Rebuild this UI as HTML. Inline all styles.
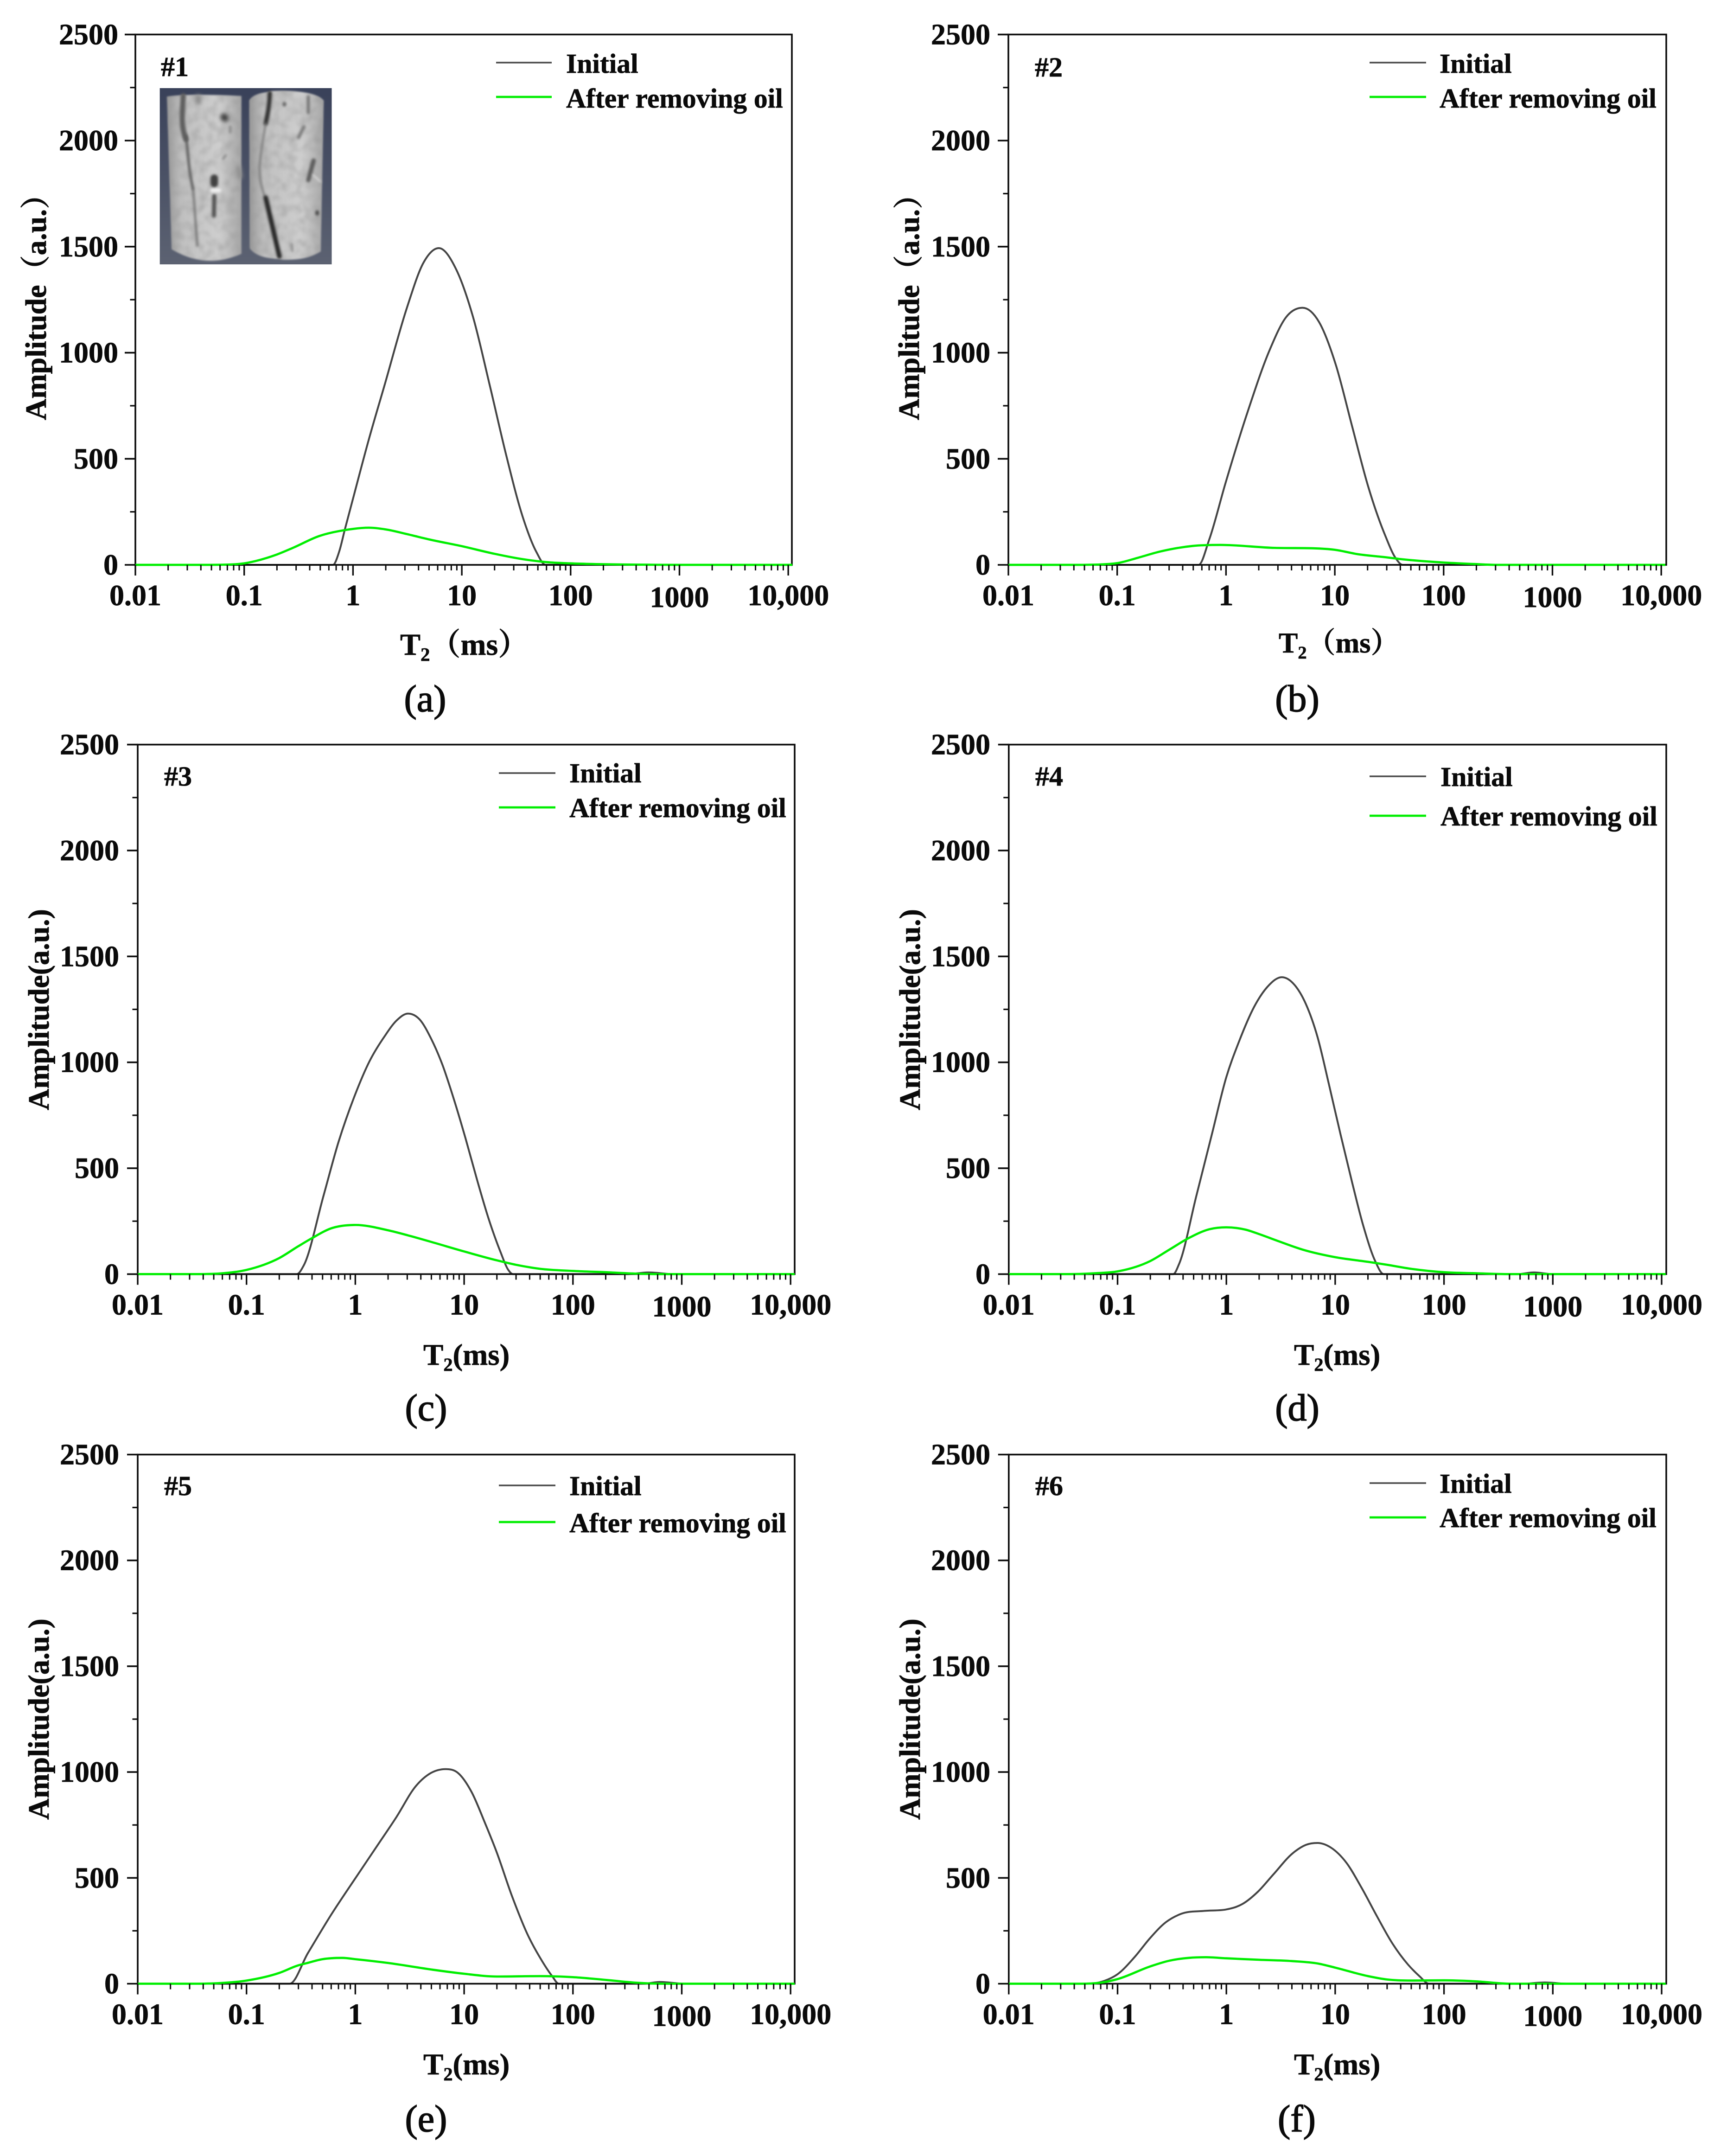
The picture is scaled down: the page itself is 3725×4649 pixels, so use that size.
<!DOCTYPE html>
<html lang="en">
<head>
<meta charset="utf-8">
<title>T2 amplitude spectra before and after removing oil</title>
<style>
html,body{margin:0;padding:0;background:#fff;}
svg{display:block;}
text{font-family:"Liberation Serif","Noto Serif CJK SC",serif;fill:#0a0a0a;stroke:#0a0a0a;stroke-width:.7px;text-rendering:geometricPrecision;}
</style>
</head>
<body>
<svg id="figure" xmlns="http://www.w3.org/2000/svg" width="3725" height="4649" viewBox="0 0 3725 4649">
<defs>
<linearGradient id="insetBg" x1="0" y1="0" x2="0" y2="1"><stop offset="0" stop-color="#394159"/><stop offset="1" stop-color="#5c6272"/></linearGradient>
<linearGradient id="coreShade" x1="0" y1="0" x2="1" y2="0"><stop offset="0" stop-color="#989898"/><stop offset=".2" stop-color="#c0c0c0"/><stop offset=".7" stop-color="#cfcfcf"/><stop offset="1" stop-color="#a6a6a6"/></linearGradient>
<filter id="b1" filterUnits="userSpaceOnUse" x="300" y="350" width="1100" height="1100"><feGaussianBlur stdDeviation="5"/></filter>
<filter id="b3" filterUnits="userSpaceOnUse" x="300" y="350" width="1100" height="1100"><feGaussianBlur stdDeviation="7"/></filter>
<filter id="b2" filterUnits="userSpaceOnUse" x="300" y="350" width="1100" height="1100"><feGaussianBlur stdDeviation="12"/></filter>
<filter id="mottle" x="0" y="0" width="100%" height="100%"><feTurbulence type="fractalNoise" baseFrequency="0.02" numOctaves="2" seed="7"/><feColorMatrix type="matrix" values="0 0 0 0 0.3  0 0 0 0 0.3  0 0 0 0 0.3  1.1 0 0 0 -0.42"/><feGaussianBlur stdDeviation="7"/></filter>
<clipPath id="coreClip"><path d="M418,440 Q520,422 838,436 L838,1325 Q640,1415 445,1300 Z"/><path d="M882,462 Q900,425 980,415 L1010,408 Q1250,400 1302,462 L1285,1312 Q1200,1365 1070,1358 L1000,1350 Q920,1340 885,1295 Z"/></clipPath>
</defs>
<rect width="3725" height="4649" fill="#fff"/>
<g id="charts"></g>
<g transform="translate(200,40) scale(0.38270)">
<rect x="378" y="392" width="969" height="993" fill="url(#insetBg)"/>
<path d="M418,440 Q520,422 838,436 L838,1325 Q640,1415 445,1300 Z" fill="url(#coreShade)" filter="url(#b1)"/>
<path d="M882,462 Q900,425 980,415 L1010,408 Q1250,400 1302,462 L1285,1312 Q1200,1365 1070,1358 L1000,1350 Q920,1340 885,1295 Z" fill="url(#coreShade)" filter="url(#b1)"/>
<g clip-path="url(#coreClip)"><rect x="400" y="400" width="920" height="980" filter="url(#mottle)"/></g>
<g fill="none" stroke-linecap="round">
<path d="M510,436 C505,540 495,600 525,680" stroke="#5e5e5e" stroke-width="30" filter="url(#b3)"/>
<path d="M525,660 C540,780 540,850 565,960" stroke="#5a5a5a" stroke-width="14" filter="url(#b3)"/>
<path d="M565,960 C575,1060 578,1150 590,1280" stroke="#6a6a6a" stroke-width="10" filter="url(#b3)"/>
<path d="M595,445 L595,470" stroke="#8a8a8a" stroke-width="34" filter="url(#b2)"/>
<path d="M740,555 L745,560" stroke="#3e3e3e" stroke-width="42" filter="url(#b2)"/>
<path d="M775,610 L775,640" stroke="#8e8e8e" stroke-width="16" filter="url(#b3)"/>
<path d="M685,900 L685,930" stroke="#404040" stroke-width="42" filter="url(#b3)"/>
<path d="M685,1000 L683,1110" stroke="#555" stroke-width="24" filter="url(#b3)"/>
<path d="M672,968 L712,968" stroke="#f2f2f2" stroke-width="22" filter="url(#b3)"/>
<path d="M820,840 L830,890" stroke="#8e8e8e" stroke-width="26" filter="url(#b2)"/>
<path d="M750,770 L735,790" stroke="#888" stroke-width="12" filter="url(#b3)"/>
</g>
<g fill="none" stroke-linecap="round">
<path d="M998,420 C995,500 985,540 975,590" stroke="#333" stroke-width="24" filter="url(#b3)"/>
<path d="M975,590 C960,680 945,760 940,840 C940,920 955,960 970,1005" stroke="#777" stroke-width="10" filter="url(#b3)"/>
<path d="M975,1010 L1052,1340" stroke="#262626" stroke-width="26" filter="url(#b3)"/>
<path d="M1215,440 L1215,530" stroke="#777" stroke-width="18" filter="url(#b3)"/>
<path d="M1190,610 L1160,670" stroke="#7a7a7a" stroke-width="18" filter="url(#b3)"/>
<path d="M1245,800 L1215,910" stroke="#5c5c5c" stroke-width="24" filter="url(#b3)"/>
<path d="M1265,1090 L1265,1100" stroke="#4a4a4a" stroke-width="20" filter="url(#b3)"/>
<path d="M1080,480 L1080,485" stroke="#666" stroke-width="22" filter="url(#b3)"/>
<path d="M1240,880 L1285,920" stroke="#eee" stroke-width="6" filter="url(#b3)"/>
<path d="M1120,1270 L1125,1310" stroke="#888" stroke-width="10" filter="url(#b3)"/>
</g>
</g>
</svg>
<script>
// Shared axis data
const xTickValues = [0.01, 0.1, 1, 10, 100, 1000, 10000];
const xTickLabels = ['0.01', '0.1', '1', '10', '100', '1000', '10,000'];
const yTickValues = [0, 500, 1000, 1500, 2000, 2500];
const yMinorValues = [250, 750, 1250, 1750, 2250];
const seriesNames = ['Initial', 'After removing oil'];

// Panel (a) #1
const aInitialT2 = [0.01,0.654,0.75,0.84,1.0,1.39,1.97,3.13,4.44,6.15,8.93,12.7,17.9,25.5,36.1,48.3,58.9,10900];
const aInitialAmp = [0,0,66,165,312,587,855,1212,1424,1493,1390,1167,855,520,230,62,0,0];
const aOilT2 = [0.01,0.04,0.068,0.1,0.127,0.2,0.28,0.49,0.87,1.4,2,3.13,5,10,20,36,60,100,200,400,1000,10900];
const aOilAmp = [0,0,1,7,18,49,80,136,165,175,167,145,120,88,52,27,13,7,3,1,0,0];

// Panel (b) #2
const bInitialT2 = [0.01,0.56,0.7,0.99,1.58,2.51,3.56,5.05,7.16,10.2,14.4,20.4,28.9,36.5,42,10900];
const bInitialAmp = [0,0,118,386,721,1011,1167,1212,1145,944,654,364,141,29,0,0];
const bOilT2 = [0.01,0.04,0.07,0.1,0.154,0.245,0.49,0.89,2.8,6.4,10,16,29,39,100,190,300,10900];
const bOilAmp = [0,0,2,8,33,62,89,94,80,78,71,51,36,28,11,4,0,0];

// Panel (c) #3
const cInitialT2 = [0.01,0.29,0.335,0.51,0.7,1,1.35,1.87,2.39,3.05,3.89,4.97,6.34,8.09,10.3,13.2,16.8,21.5,25.3,28.1,313,498,840,10900];
const cInitialAmp = [0,0,40,370,623,850,1005,1125,1197,1230,1203,1112,986,822,641,442,261,107,22,0,0,8,0,0];
const cOilT2 = [0.01,0.032,0.057,0.1,0.2,0.3,0.4,0.6,1,2,3,5,10,20,30,50,100,200,400,700,10900];
const cOilAmp = [0,0,3,20,76,132,170,216,232,207,184,152,107,65,44,25,15,9,2,0,0];

// Panel (d) #4
const dInitialT2 = [0.01,0.325,0.367,0.53,0.735,1,1.3,1.8,2.39,3.23,4.22,5.38,6.87,8.77,11.2,14.3,18.2,23.3,27.9,472,670,1000,10900];
const dInitialAmp = [0,0,47,370,659,931,1095,1262,1357,1402,1366,1275,1121,895,659,433,225,62,0,0,8,0,0];
const dOilT2 = [0.01,0.034,0.061,0.1,0.2,0.3,0.45,0.7,1,1.5,2,3,5,10,20,30,50,100,200,400,10900];
const dOilAmp = [0,0,4,13,62,116,170,212,221,210,189,156,116,80,58,44,25,9,4,0,0];

// Panel (e) #5
const eInitialT2 = [0.01,0.249,0.367,0.6,1,1.59,2.39,3.59,4.97,6.76,8.77,11.7,15.5,19.8,27.4,38,50.5,64.4,74,443,628,1060,10900];
const eInitialAmp = [0,0,145,326,498,652,788,933,996,1014,996,906,761,625,417,236,118,36,0,0,8,0,0];
const eOilT2 = [0.01,0.032,0.057,0.1,0.2,0.3,0.35,0.5,0.76,1,2,5,10,20,50,100,200,400,700,10900];
const eOilAmp = [0,0,3,15,51,87,96,116,122,116,98,67,47,34,36,31,18,4,0,0];

// Panel (f) #6
const fInitialT2 = [0.01,0.054,0.075,0.1,0.144,0.2,0.277,0.383,0.624,1,1.41,1.95,2.7,4.06,5.38,6.87,9.14,12.7,17.5,24.3,33.6,46.6,59.4,72.8,530,845,1350,10900];
const fInitialAmp = [0,0,13,45,127,217,290,330,344,351,377,435,516,616,656,665,643,571,453,317,190,91,36,0,0,6,0,0];
const fOilT2 = [0.01,0.04,0.07,0.1,0.2,0.3,0.45,0.65,1,2,4,7,10,20,30,50,100,200,400,10900];
const fOilAmp = [0,0,5,22,82,109,122,125,120,113,107,95,76,36,20,15,16,11,0,0];

// Layout of each panel (not data)
const PANELS = [
 {id:'a',num:'#1',t2:[aInitialT2,aInitialAmp,aOilT2,aOilAmp],left:292,right:1708,top:74.4,bottom:1218,tickR:255,yTitle:'Amplitude（a.u.）',yTX:99,yTY:906,xTitle:'（ms）',xTX:863,xTY:1412,xFS:66,cap:'(a)',capX:917,capY:1534,numX:347,numY:164,lgX1:1070,lgX2:1190,lgY1:135,lgY2:209,lgTX:1221,lgB1:157,lgB2:232},
 {id:'b',num:'#2',t2:[bInitialT2,bInitialAmp,bOilT2,bOilAmp],left:2175,right:3594,top:74.4,bottom:1218,tickR:2136,yTitle:'Amplitude（a.u.）',yTX:1982,yTY:906,xTitle:'（ms）',xTX:2758,xTY:1407,xFS:62,cap:'(b)',capX:2798,capY:1534,numX:2232,numY:165,lgX1:2954,lgX2:3076,lgY1:135,lgY2:209,lgTX:3105,lgB1:157,lgB2:232},
 {id:'c',num:'#3',t2:[cInitialT2,cInitialAmp,cOilT2,cOilAmp],left:297,right:1714,top:1605.6,bottom:2747.4,tickR:257,yTitle:'Amplitude(a.u.)',yTX:105,yTY:2394,xTitle:'(ms)',xTX:913,xTY:2943,xFS:65,cap:'(c)',capX:919,capY:3063,numX:354,numY:1694,lgX1:1076,lgX2:1198,lgY1:1667,lgY2:1741,lgTX:1228,lgB1:1687,lgB2:1762},
 {id:'d',num:'#4',t2:[dInitialT2,dInitialAmp,dOilT2,dOilAmp],left:2175.8,right:3594,top:1605.6,bottom:2747.4,tickR:2136,yTitle:'Amplitude(a.u.)',yTX:1984,yTY:2394,xTitle:'(ms)',xTX:2791,xTY:2943,xFS:65,cap:'(d)',capX:2798,capY:3063,numX:2233,numY:1694,lgX1:2954,lgX2:3076,lgY1:1674,lgY2:1759,lgTX:3107,lgB1:1695,lgB2:1780},
 {id:'e',num:'#5',t2:[eInitialT2,eInitialAmp,eOilT2,eOilAmp],left:297,right:1714,top:3136.5,bottom:4277.5,tickR:257,yTitle:'Amplitude(a.u.)',yTX:105,yTY:3924,xTitle:'(ms)',xTX:913,xTY:4473,xFS:65,cap:'(e)',capX:919,capY:4596,numX:354,numY:3224,lgX1:1076,lgX2:1198,lgY1:3203,lgY2:3282,lgTX:1228,lgB1:3224,lgB2:3304},
 {id:'f',num:'#6',t2:[fInitialT2,fInitialAmp,fOilT2,fOilAmp],left:2175.8,right:3594,top:3136.5,bottom:4277.5,tickR:2136,yTitle:'Amplitude(a.u.)',yTX:1984,yTY:3924,xTitle:'(ms)',xTX:2791,xTY:4473,xFS:65,cap:'(f)',capX:2797,capY:4596,numX:2233,numY:3224,lgX1:2954,lgX2:3076,lgY1:3198,lgY2:3272,lgTX:3105,lgB1:3219,lgB2:3293}
];

const SVGNS = 'http://www.w3.org/2000/svg';
const DECADE_PX = 234.7;
const AXIS_MAX = 2500;

function mk(parent, tag, attrs, txt) {
  const el = document.createElementNS(SVGNS, tag);
  for (const k in attrs) el.setAttribute(k, attrs[k]);
  if (txt !== undefined) el.textContent = txt;
  parent.appendChild(el);
  return el;
}

function smoothPath(pts) {
  const n = pts.length, dx = [], s = [], m = [];
  for (let i = 0; i < n - 1; i++) {
    dx[i] = pts[i + 1][0] - pts[i][0];
    s[i] = (pts[i + 1][1] - pts[i][1]) / dx[i];
  }
  m[0] = s[0];
  m[n - 1] = s[n - 2];
  for (let i = 1; i < n - 1; i++) {
    if (s[i - 1] * s[i] <= 0) { m[i] = 0; continue; }
    const c = (dx[i] * s[i - 1] + dx[i - 1] * s[i]) / (dx[i - 1] + dx[i]);
    const lim = 3 * Math.min(Math.abs(s[i - 1]), Math.abs(s[i]));
    m[i] = Math.sign(c) * Math.min(Math.abs(c), lim);
  }
  let d = 'M' + pts[0][0].toFixed(1) + ',' + pts[0][1].toFixed(1);
  for (let i = 0; i < n - 1; i++) {
    const h = dx[i] / 3;
    d += 'C' + (pts[i][0] + h).toFixed(1) + ',' + (pts[i][1] + m[i] * h).toFixed(1) + ' ' +
      (pts[i + 1][0] - h).toFixed(1) + ',' + (pts[i + 1][1] - m[i + 1] * h).toFixed(1) + ' ' +
      pts[i + 1][0].toFixed(1) + ',' + pts[i + 1][1].toFixed(1);
  }
  return d;
}

const root = document.getElementById('charts');

PANELS.forEach(function (p) {
  const xScale = function (t) { return p.left + (Math.log10(t) + 2) * DECADE_PX; };
  const yScale = function (v) { return p.bottom - (v / AXIS_MAX) * (p.bottom - p.top); };

  const g = mk(root, 'g', {});
  
  

  // Series lines
  const initialPts = p.t2[0].map(function (t, i) { return [xScale(t), yScale(p.t2[1][i])]; });
  const oilPts = p.t2[2].map(function (t, i) { return [xScale(t), yScale(p.t2[3][i])]; });
  const initialLine = mk(g, 'path', {d: smoothPath(initialPts), fill: 'none', stroke: '#444', 'stroke-width': 4});
  
  

  // Frame
  const frame = mk(g, 'rect', {x: p.left, y: p.top, width: p.right - p.left, height: p.bottom - p.top, fill: 'none', stroke: '#0c0c0c', 'stroke-width': 3.6});
  
  

  const oilLine = mk(g, 'path', {d: smoothPath(oilPts), fill: 'none', stroke: '#00ee00', 'stroke-width': 4.8});
  
  

  // Y axis ticks
  yTickValues.forEach(function (v) {
    const y = yScale(v);
    const tick = mk(g, 'line', {x1: p.left - 23, x2: p.left, y1: y, y2: y, stroke: '#0c0c0c', 'stroke-width': 3.6});
    
    
    const lab = mk(g, 'text', {x: p.tickR, y: y + 21, 'text-anchor': 'end', 'font-size': 64, 'font-weight': 700}, String(v));
    
    
  });
  yMinorValues.forEach(function (v) {
    const y = yScale(v);
    const tick = mk(g, 'line', {x1: p.left - 11.5, x2: p.left, y1: y, y2: y, stroke: '#0c0c0c', 'stroke-width': 3.2});
    
    
  });

  // X axis ticks
  xTickValues.forEach(function (t, i) {
    const x = xScale(t);
    const tick = mk(g, 'line', {x1: x, x2: x, y1: p.bottom, y2: p.bottom + 23, stroke: '#0c0c0c', 'stroke-width': 3.4});
    
    
    const lab = mk(g, 'text', {x: x, y: p.bottom + (xTickLabels[i] === '1000' ? 91 : 87), 'text-anchor': 'middle', 'font-size': 64, 'font-weight': 700}, xTickLabels[i]);
    
    
    if (i < xTickValues.length - 1) {
      for (let k = 2; k < 10; k++) {
        const mx = xScale(t * k);
        const minor = mk(g, 'line', {x1: mx, x2: mx, y1: p.bottom, y2: p.bottom + 12, stroke: '#0c0c0c', 'stroke-width': 3});
        
        
      }
    }
  });

  // Titles
  const yT = mk(g, 'text', {transform: 'translate(' + p.yTX + ',' + p.yTY + ') rotate(-90)', 'font-size': 64, 'font-weight': 700}, p.yTitle);
  
  

  const xT = mk(g, 'text', {x: p.xTX, y: p.xTY, 'font-size': p.xFS, 'font-weight': 700});
  
  
  mk(xT, 'tspan', {}, 'T');
  mk(xT, 'tspan', {dy: 13, 'font-size': p.xFS * 0.62}, '2');
  mk(xT, 'tspan', {dy: -13}, p.xTitle);

  const cap = mk(g, 'text', {x: p.capX, y: p.capY, 'text-anchor': 'middle', 'font-size': 82, style: 'stroke-width:1.6px'}, p.cap);
  
  

  const num = mk(g, 'text', {x: p.numX, y: p.numY, 'font-size': 60, 'font-weight': 700}, p.num);
  
  

  // Legend
  const lg = mk(g, 'g', {});
  
  
  const l1 = mk(lg, 'line', {x1: p.lgX1, x2: p.lgX2, y1: p.lgY1, y2: p.lgY1, stroke: '#4a4a4a', 'stroke-width': 3.6});
  
  
  const t1 = mk(lg, 'text', {x: p.lgTX, y: p.lgB1, 'font-size': 59.6, 'font-weight': 700}, seriesNames[0]);
  
  
  const l2 = mk(lg, 'line', {x1: p.lgX1, x2: p.lgX2, y1: p.lgY2, y2: p.lgY2, stroke: '#00ee00', 'stroke-width': 4.8});
  
  
  const t2 = mk(lg, 'text', {x: p.lgTX, y: p.lgB2, 'font-size': 59.6, 'font-weight': 700}, seriesNames[1]);
  
  
});
</script>
</body>
</html>
